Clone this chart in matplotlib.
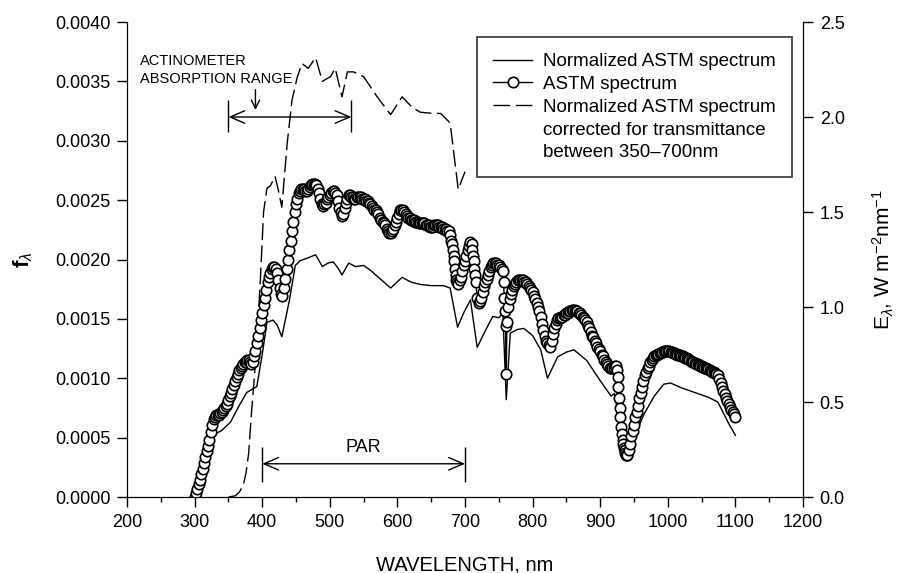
"""
Solar spectrum plot: ASTM spectrum (right axis) with the normalized
spectrum and the transmittance-corrected normalized spectrum (left axis).
"""

import matplotlib
matplotlib.use("Agg")
import matplotlib.pyplot as plt
from matplotlib.lines import Line2D

plt.rcParams["font.family"] = ["Liberation Sans", "DejaVu Sans"]
plt.rcParams["mathtext.fontset"] = "custom"
plt.rcParams["mathtext.rm"] = "Liberation Sans"
plt.rcParams["mathtext.it"] = "Liberation Sans:italic"
plt.rcParams["mathtext.bf"] = "Liberation Sans:bold"

# ── ASTM spectrum, E (W m-2 nm-1), right axis ─────────────────────────
astm_nm = [
    300, 302, 304, 306, 308, 310, 312, 314, 316, 318, 320, 322, 324, 326, 328, 330,
    332, 334, 336, 338, 340, 342, 344, 346, 348, 350,
    352, 354, 356, 358, 360, 362, 364, 366, 368, 370, 372, 374, 376, 378, 380, 382, 384,
    386, 388, 390, 392, 394, 396, 398, 400, 402, 404, 406, 408, 410,
    412, 414, 416, 418, 420, 422, 424, 426, 428, 430,
    432, 434, 436, 438, 440, 442, 444, 446, 448, 450, 452, 454, 456,
    458, 460, 462, 464, 466, 468, 470, 472, 474, 476, 478, 480, 482, 484, 486, 488,
    490, 492, 494, 496, 498, 500,
    502, 504, 506, 508, 510, 512, 514, 516, 518, 520, 522, 524, 526, 528, 530, 532,
    534, 536, 538, 540,
    542, 544, 546, 548, 550, 552, 554, 556, 558, 560, 562, 564, 566, 568, 570, 572,
    574, 576, 578, 580, 582, 584, 586, 588, 590, 592, 594, 596, 598, 600,
    602, 604, 606, 608, 610, 612, 614, 616, 618, 620, 622, 624, 626, 628, 630, 632,
    634, 636, 638, 640,
    642, 644, 646, 648, 650, 652, 654, 656, 658, 660, 662, 664, 666, 668, 670, 672,
    674, 676, 678, 680,
    681, 682, 683, 684, 685, 686, 687, 688, 690,
    692, 694, 696, 698, 700, 702, 704, 706, 708, 710, 711, 712, 713, 714, 715, 716,
    718, 720,
    722, 724, 726, 728, 730, 732, 734, 736, 738, 740, 742, 744, 746, 748, 750, 752, 754,
    756, 757, 758, 759, 760, 761, 762, 764,
    766, 768, 770, 772, 774, 776, 778, 780, 782, 784, 786, 788, 790, 792, 794, 796,
    798, 800,
    802, 804, 806, 808, 810, 812, 814, 816, 818, 820, 822, 824, 826, 828, 830, 832,
    834, 836, 838, 840,
    842, 844, 846, 848, 850, 852, 854, 856, 858, 860, 862, 864, 866, 868, 870, 872,
    874, 876, 878, 880,
    882, 884, 886, 888, 890, 892, 894, 896, 898, 900, 902, 904, 906, 908, 910, 912,
    914, 916, 918, 920, 922, 924,
    925, 926, 927, 928, 929, 930, 931, 932, 933, 934, 935, 936, 937, 938, 939, 940,
    942, 944, 946, 948, 950, 952, 954, 956, 958, 960, 962, 964, 966, 968, 970, 972,
    974, 976, 978, 980, 982, 984, 986, 988, 990, 992, 994, 996, 998, 1000,
    1002, 1004, 1006, 1008, 1010, 1012, 1014, 1016, 1018, 1020, 1022, 1024, 1026, 1028,
    1030, 1032, 1034, 1036, 1038, 1040, 1042, 1044, 1046, 1048, 1050, 1052, 1054, 1056,
    1058, 1060,
    1062, 1064, 1066, 1068, 1070, 1072, 1074, 1076, 1078, 1080, 1082, 1084, 1086, 1088,
    1090, 1092, 1094, 1096, 1098, 1100,
]
astm_E = [
    0.00, 0.02, 0.04, 0.07, 0.09, 0.12, 0.15, 0.18, 0.21, 0.24, 0.27, 0.30, 0.34, 0.38, 0.41, 0.42,
    0.43, 0.43, 0.43, 0.44, 0.45, 0.46, 0.47, 0.48, 0.49, 0.51,
    0.53, 0.55, 0.57, 0.59, 0.61, 0.63, 0.65, 0.67, 0.68, 0.69, 0.70, 0.71, 0.71, 0.72, 0.72, 0.71, 0.70,
    0.71, 0.74, 0.77, 0.81, 0.85, 0.89, 0.93, 0.97, 1.01, 1.05, 1.09, 1.13, 1.16,
    1.18, 1.20, 1.21, 1.21, 1.20, 1.18, 1.14, 1.10, 1.07, 1.06,
    1.10, 1.15, 1.20, 1.25, 1.30, 1.35, 1.40, 1.45, 1.50, 1.54, 1.57, 1.60, 1.61,
    1.62, 1.62, 1.62, 1.61, 1.61, 1.62, 1.63, 1.64, 1.65, 1.65, 1.65, 1.64, 1.62, 1.60, 1.57, 1.54,
    1.53, 1.54, 1.55, 1.57, 1.58, 1.59,
    1.60, 1.61, 1.61, 1.60, 1.59, 1.56, 1.52, 1.50, 1.48, 1.49, 1.52, 1.55, 1.57, 1.59, 1.59, 1.58,
    1.58, 1.57, 1.57, 1.58,
    1.58, 1.58, 1.58, 1.57, 1.57, 1.57, 1.56, 1.56, 1.55, 1.54, 1.53, 1.52, 1.51, 1.51, 1.50, 1.49,
    1.47, 1.46, 1.45, 1.44, 1.43, 1.41, 1.40, 1.39, 1.39, 1.40, 1.41, 1.43, 1.45, 1.47,
    1.49, 1.51, 1.51, 1.51, 1.50, 1.49, 1.48, 1.47, 1.47, 1.46, 1.46, 1.46, 1.45, 1.45, 1.45, 1.44,
    1.44, 1.44, 1.44, 1.44,
    1.43, 1.43, 1.43, 1.42, 1.42, 1.42, 1.43, 1.43, 1.43, 1.43, 1.42, 1.42, 1.42, 1.41, 1.41, 1.41,
    1.40, 1.40, 1.38, 1.35,
    1.33, 1.30, 1.27, 1.24, 1.20, 1.17, 1.14, 1.13, 1.12,
    1.14, 1.16, 1.19, 1.22, 1.24, 1.27, 1.30, 1.32, 1.34, 1.33, 1.30, 1.27, 1.24, 1.20, 1.17, 1.13,
    1.05, 1.02,
    1.03, 1.05, 1.08, 1.11, 1.13, 1.15, 1.17, 1.19, 1.21, 1.22, 1.23, 1.23, 1.23, 1.22, 1.22, 1.21, 1.20,
    1.19, 1.13, 1.05, 0.98, 0.90, 0.65, 0.92, 1.00,
    1.04, 1.07, 1.09, 1.11, 1.12, 1.13, 1.14, 1.14, 1.14, 1.14, 1.14, 1.13, 1.13, 1.12, 1.11, 1.10,
    1.09, 1.08,
    1.06, 1.04, 1.02, 1.00, 0.98, 0.95, 0.91, 0.88, 0.85, 0.82, 0.81, 0.80, 0.79, 0.82, 0.86, 0.89,
    0.91, 0.93, 0.94, 0.94,
    0.95, 0.95, 0.96, 0.96, 0.97, 0.97, 0.98, 0.98, 0.985, 0.985, 0.985, 0.98, 0.98, 0.97, 0.97, 0.96,
    0.95, 0.94, 0.93, 0.92,
    0.90, 0.89, 0.87, 0.85, 0.84, 0.82, 0.81, 0.79, 0.78, 0.77, 0.75, 0.74, 0.72, 0.71, 0.70, 0.69,
    0.68, 0.68, 0.68, 0.68, 0.69, 0.69,
    0.67, 0.63, 0.58, 0.52, 0.47, 0.42, 0.37, 0.33, 0.30, 0.28, 0.26, 0.25, 0.23, 0.22, 0.22, 0.22,
    0.25, 0.28, 0.32, 0.35, 0.38, 0.42, 0.45, 0.48, 0.52, 0.55, 0.58, 0.61, 0.64, 0.66, 0.68, 0.69,
    0.71, 0.72, 0.73, 0.74, 0.745, 0.75, 0.755, 0.76, 0.76, 0.765, 0.77, 0.77, 0.77, 0.77,
    0.77, 0.765, 0.765, 0.76, 0.76, 0.755, 0.75, 0.75, 0.745, 0.74, 0.74, 0.735, 0.73, 0.73,
    0.725, 0.72, 0.715, 0.71, 0.71, 0.705, 0.70, 0.70, 0.695, 0.69, 0.69, 0.685, 0.68, 0.68,
    0.675, 0.675,
    0.67, 0.665, 0.66, 0.66, 0.655, 0.65, 0.64, 0.62, 0.60, 0.58, 0.56, 0.54, 0.52, 0.505,
    0.49, 0.475, 0.46, 0.45, 0.435, 0.42,
]

# ── Normalized ASTM spectrum, f (left axis) ───────────────────────────
norm_nm = [
    300, 310, 320, 330, 340, 353, 365, 377, 392, 400, 407, 416, 422, 429, 440, 449,
    456, 466, 479, 489, 497, 505, 512, 518, 528, 538, 550, 560, 570, 580, 590, 607,
    620, 634, 650, 668, 678, 689, 698, 708, 718, 730, 741, 750, 756, 761, 767, 777,
    787, 800, 812, 822, 837, 850, 861, 880, 900, 916, 921, 930, 938, 950, 965, 980,
    994, 1004, 1020, 1040, 1060, 1074, 1090, 1100,
]
norm_f = [
    0.0, 0.00013, 0.00033, 0.00053, 0.00056, 0.00063, 0.00076, 0.00088, 0.00093, 0.00120,
    0.00147, 0.00149, 0.00145, 0.00135, 0.00165, 0.00195, 0.00199, 0.00201, 0.00204, 0.00194,
    0.00197, 0.00198, 0.00193, 0.00187, 0.00197, 0.00194, 0.00195, 0.00191, 0.00186, 0.00181,
    0.00176, 0.00185, 0.00181, 0.00179, 0.00178, 0.00178, 0.00176, 0.00143, 0.00155, 0.00166,
    0.00126, 0.00140, 0.00152, 0.00151, 0.00155, 0.00082, 0.00138, 0.00141, 0.00142, 0.00136,
    0.00124, 0.00100, 0.00118, 0.00122, 0.00124, 0.00115, 0.00098, 0.00085, 0.00087, 0.00060,
    0.00034, 0.00050, 0.00070, 0.00085, 0.00095, 0.00096, 0.00092, 0.00088, 0.00084, 0.00080,
    0.00062, 0.00052,
]

# ── Normalized spectrum corrected for transmittance (350-700 nm) ──────
corr_nm = [
    350, 360, 366, 372, 376, 380, 384, 388, 392, 397, 402, 407, 412, 419, 424, 429,
    437, 444, 452, 459, 468, 479, 489, 501, 508, 518, 526, 535, 550, 570, 590, 607,
    622, 634, 654, 664, 678, 690, 700,
]
corr_f = [
    0.0, 0.00001, 0.00004, 0.0001, 0.0002, 0.00037, 0.0007, 0.00098, 0.0013, 0.0018,
    0.0024, 0.0026, 0.00262, 0.0027, 0.00258, 0.00244, 0.00298, 0.00334, 0.00354, 0.00365,
    0.00361, 0.0037, 0.0035, 0.00354, 0.00361, 0.00337, 0.00358, 0.00358, 0.00354, 0.00337,
    0.00322, 0.00337, 0.00328, 0.00324, 0.00323, 0.00323, 0.00315, 0.00259, 0.00274,
]

X_TICKS = [200, 300, 400, 500, 600, 700, 800, 900, 1000, 1100, 1200]
F_TICKS = [0.0, 0.0005, 0.0010, 0.0015, 0.0020, 0.0025, 0.0030, 0.0035, 0.0040]
E_TICKS = [0.0, 0.5, 1.0, 1.5, 2.0, 2.5]

ACT_RANGE = (350, 532)     # actinometer absorption range, nm
PAR_RANGE = (400, 700)     # photosynthetically active radiation, nm

DASH = (0, (12, 4))
MARKER = dict(marker="o", ms=7.5, mfc="white", mec="black", mew=1.2)


def bracket(ax, lo, hi, y, bar_lo, bar_hi):
    """Double-headed arrow between two vertical end bars."""
    ax.annotate("", xy=(hi, y), xytext=(lo, y),
                arrowprops=dict(arrowstyle="<->,head_length=0.7,head_width=0.3",
                                color="black", lw=1.0, shrinkA=0, shrinkB=0,
                                mutation_scale=15))
    ax.vlines([lo, hi], bar_lo, bar_hi, color="black", lw=1.0)


def main():
    fig = plt.figure(figsize=(8.97, 5.73), dpi=100)
    ax = fig.add_axes([0.1416, 0.1326, 0.7536, 0.829])
    ax2 = ax.twinx()

    ax.plot(norm_nm, norm_f, color="black", lw=1.0)
    ax.plot(corr_nm, corr_f, color="black", lw=1.0, linestyle=DASH)
    ax2.plot(astm_nm, astm_E, color="black", lw=1.0, **MARKER)

    ax.set_xlim(200, 1200)
    ax.set_ylim(0, 0.004)
    ax2.set_ylim(0, 2.5)
    ax.set_xticks(X_TICKS)
    ax.set_xticks(range(250, 1200, 100), minor=True)
    ax.set_yticks(F_TICKS)
    ax.set_yticklabels([f"{v:.4f}" for v in F_TICKS])
    ax2.set_yticks(E_TICKS)
    ax2.set_yticklabels([f"{v:.1f}" for v in E_TICKS])

    for a in (ax, ax2):
        a.spines["top"].set_visible(False)
        a.tick_params(which="major", direction="out", length=7, width=1.0,
                      labelsize=13, pad=5)
    ax.tick_params(which="minor", axis="x", direction="out", length=3.5, width=1.0)

    ax.set_xlabel("WAVELENGTH, nm", fontsize=14.5, labelpad=18)
    ax.set_ylabel(r"$\mathbf{f}_{\lambda}$", fontsize=16)
    ax.yaxis.set_label_coords(-0.136, 0.5)
    ax2.set_ylabel(r"E$_{\lambda}$, W m$^{-2}$nm$^{-1}$", fontsize=15, labelpad=19)

    # annotations
    ax.text(219, 0.00373, "ACTINOMETER\nABSORPTION RANGE", fontsize=10.5,
            ha="left", va="top", linespacing=1.4)
    ax.annotate("", xy=(390, 0.00326), xytext=(390, 0.00343),
                arrowprops=dict(arrowstyle="->,head_length=0.5,head_width=0.25",
                                color="black", lw=1.0, shrinkA=0, shrinkB=0,
                                mutation_scale=12))
    bracket(ax, ACT_RANGE[0], ACT_RANGE[1], 0.0032, 0.00307, 0.00334)
    bracket(ax, PAR_RANGE[0], PAR_RANGE[1], 0.00028, 0.00013, 0.00042)
    ax.text(550, 0.00038, "PAR", fontsize=13, ha="center", va="baseline")

    # legend: third entry spread over three rows so the dash sits on its first line
    blank = Line2D([], [], color="none")
    handles = [
        Line2D([], [], color="black", lw=1.0),
        Line2D([], [], color="black", lw=1.0, **MARKER),
        Line2D([], [], color="black", lw=1.0, linestyle=DASH),
        blank,
        blank,
    ]
    labels = [
        "Normalized ASTM spectrum",
        "ASTM spectrum",
        "Normalized ASTM spectrum",
        "corrected for transmittance",
        "between 350\u2013700nm",
    ]
    leg = ax2.legend(handles, labels, loc="upper right",
                     bbox_to_anchor=(0.984, 0.968), fontsize=13.5,
                     frameon=True, fancybox=False, edgecolor="black",
                     handlelength=2.1, handletextpad=0.6, labelspacing=0.3,
                     borderpad=0.85, borderaxespad=0)
    leg.get_frame().set_linewidth(1.2)

    fig.savefig("out.png", dpi=100)
    plt.close(fig)


if __name__ == "__main__":
    main()
